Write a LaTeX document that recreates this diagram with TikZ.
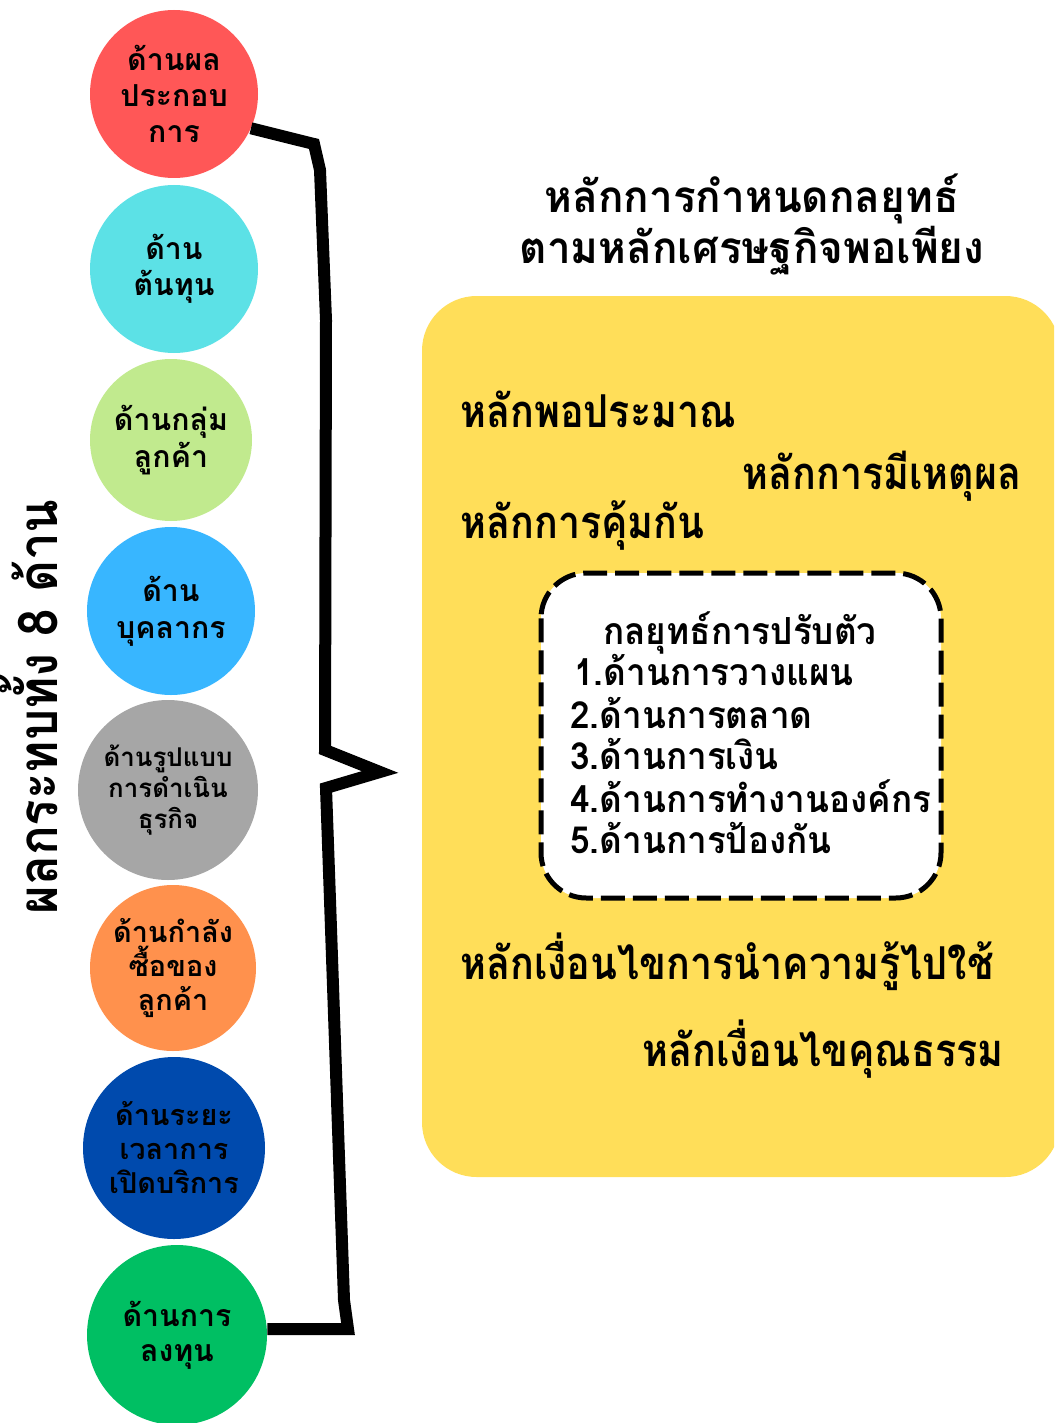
\documentclass[tikz,border=0pt]{standalone}
\usepackage{fontspec}
\newfontfamily\thai[Script=Thai]{Loma}
\newfontfamily\thaib[Script=Thai,FakeStretch=0.87]{Loma}
\newfontfamily\thail[Script=Thai,FakeStretch=0.94]{Loma}
\newfontfamily\thait[Script=Thai,FakeStretch=0.96]{Loma}
\newfontfamily\thaiv[Script=Thai,FakeStretch=0.9]{Loma}
\definecolor{cred}{HTML}{FF5757}
\definecolor{ccyan}{HTML}{5CE1E6}
\definecolor{clgreen}{HTML}{C1EA8E}
\definecolor{cblue}{HTML}{38B6FF}
\definecolor{cgray}{HTML}{A6A6A6}
\definecolor{corange}{HTML}{FF914D}
\definecolor{cdblue}{HTML}{004AAD}
\definecolor{cgreen}{HTML}{00BF63}
\definecolor{cyellow}{HTML}{FFDE59}
\tikzset{
  circ/.style={circle, inner sep=0pt, align=center, text=black},
  ctext/.style n args={2}{font=\thai\bfseries\fontsize{#1}{#2}\selectfont},
  btext/.style={anchor=base west, inner sep=0pt, font=\thaib\bfseries\fontsize{34}{40}\selectfont},
  listtext/.style={anchor=base west, inner sep=0pt, font=\thail\bfseries\fontsize{28}{34}\selectfont},
  ttext/.style={anchor=base, inner sep=0pt, font=\thait\bfseries\fontsize{33}{38}\selectfont},
  brace/.style={line width=9pt, line join=miter, miter limit=4, line cap=butt},
}
\begin{document}
\begin{tikzpicture}[x=0.75pt,y=-0.75pt]
\useasboundingbox (0,0) rectangle (1054,1423);
% circles
\node[circ, fill=cred, minimum size=126pt, ctext={22.7}{27}] (c1) at (174,94) {ด้านผล\\ประกอบ\\การ};
\node[circ, fill=ccyan, minimum size=126pt, ctext={22.7}{27}] (c2) at (174,269) {ด้าน\\ต้นทุน};
\node[circ, fill=clgreen, minimum size=121.5pt, ctext={22.7}{27.5}] (c3) at (171,440) {ด้านกลุ่ม\\ลูกค้า};
\node[circ, fill=cblue, minimum size=126pt, ctext={22.7}{27.5}] (c4) at (171,611) {ด้าน\\บุคลากร};
\node[circ, fill=cgray, minimum size=135pt, ctext={19.4}{23}] (c5) at (168,790) {ด้านรูปแบบ\\การดำเนิน\\ธุรกิจ};
\node[circ, fill=corange, minimum size=124.5pt, ctext={21.6}{25.5}] (c6) at (173,968) {ด้านกำลัง\\ซื้อของ\\ลูกค้า};
\node[circ, fill=cdblue, minimum size=136.5pt, ctext={21.6}{25.5}] (c7) at (174,1148) {ด้านระยะ\\เวลาการ\\เปิดบริการ};
\node[circ, fill=cgreen, minimum size=135pt, ctext={22.7}{26.5}] (c8) at (177,1335) {ด้านการ\\ลงทุน};
% vertical label
\node[rotate=90, anchor=base, inner sep=0pt, font=\thaiv\bfseries\fontsize{41}{48}\selectfont] (vlab) at (57,707) {ผลกระทบทั้ง 8 ด้าน};
% brace
\coordinate (b1) at (314,144);
\coordinate (b2) at (320,170);
\coordinate (b3) at (326,320);
\coordinate (b4) at (325,750);
\coordinate (tip) at (380,772);
\coordinate (b5) at (326,788);
\coordinate (b6) at (330,900);
\coordinate (b7) at (344,1300);
\coordinate (b8) at (348,1329);
\draw[brace] (c1.-24) -- (b1) -- (b2) -- (b3) -- (b4) -- (tip) -- (b5) -- (b6) -- (b7) -- (b8) -- (c8.east|-b8);
% title
\node[ttext] (t1) at (752,213) {หลักการกำหนดกลยุทธ์};
\node[ttext] (t2) at (752,263) {ตามหลักเศรษฐกิจพอเพียง};
% yellow box
\begin{scope}
\clip (0,0) rectangle (1054,1423);
\fill[cyellow, rounded corners=41pt] (422,296) rectangle (1060,1177);
\end{scope}
\node[btext] (p1) at (460,427) {หลักพอประมาณ};
\node[btext] (p2) at (742,489) {หลักการมีเหตุผล};
\node[btext] (p3) at (460,538) {หลักการคุ้มกัน};
\node[btext] (p4) at (460,979) {หลักเงื่อนไขการนำความรู้ไปใช้};
\node[btext] (p5) at (642,1066) {หลักเงื่อนไขคุณธรรม};
% dashed box
\draw[fill=white, line width=3.75pt, dash pattern=on 18pt off 6pt, rounded corners=34pt] (541,573) rectangle (941,898);
\node[anchor=base, inner sep=0pt, font=\thail\bfseries\fontsize{28}{34}\selectfont] (s0) at (740,644) {กลยุทธ์การปรับตัว};
\node[listtext] (s1) at (574,685) {1.ด้านการวางแผน};
\node[listtext] (s2) at (570,728) {2.ด้านการตลาด};
\node[listtext] (s3) at (570,769) {3.ด้านการเงิน};
\node[listtext] (s4) at (570,812) {4.ด้านการทำงานองค์กร};
\node[listtext] (s5) at (570,853) {5.ด้านการป้องกัน};
\end{tikzpicture}
\end{document}
